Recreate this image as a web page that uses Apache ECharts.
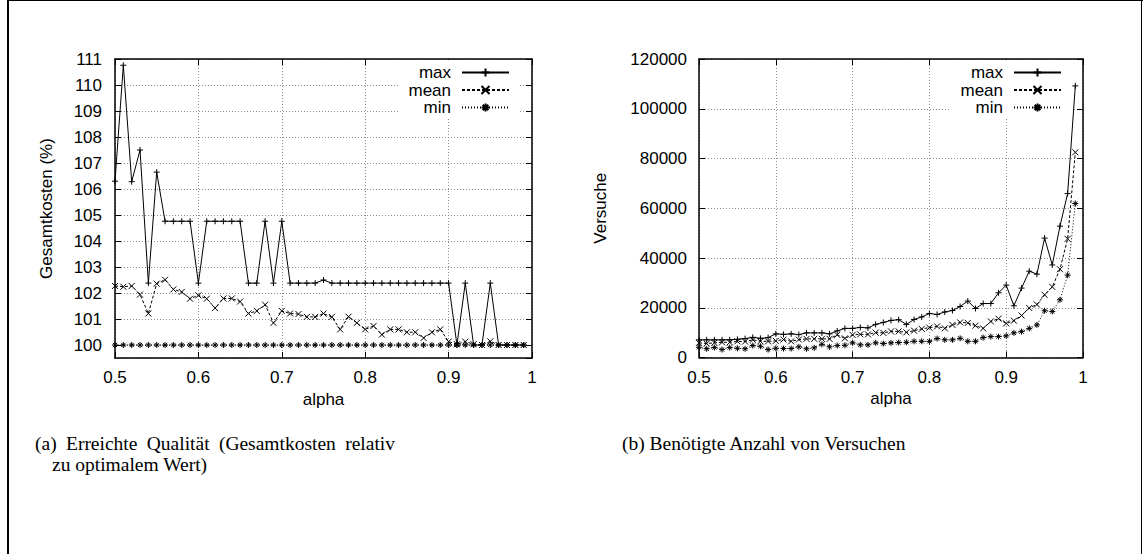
<!DOCTYPE html>
<html>
<head>
<meta charset="utf-8">
<script src="https://cdn.jsdelivr.net/npm/echarts@6/dist/echarts.min.js"></script>
<style>
  html, body { margin: 0; padding: 0; background: #fff; }
  #wrap { position: relative; width: 1143px; height: 554px; overflow: hidden; }
  #chart { position: absolute; left: 0; top: 0; width: 1143px; height: 554px; }
  .frame { position: absolute; background: #000; }
  .cap { position: absolute; font-family: 'Liberation Serif', 'Times New Roman', serif; font-size: 19.5px; line-height: 22px; color: #000; white-space: nowrap; }
  #capA1 { left: 35px; top: 433px; width: 360px; text-align: justify; text-align-last: justify; }
  #capA2 { left: 52px; top: 454px; }
  #capB { left: 622px; top: 433px; }
</style>
</head>
<body>
<div id="wrap">
  <div id="chart"></div>
  <div class="frame" style="left:7px; top:0px; width:2px; height:554px;"></div>
  <div class="frame" style="left:7px; top:0px; width:1136px; height:1px;"></div>
  <div class="frame" style="left:1141px; top:0px; width:1px; height:554px;"></div>
  <div class="cap" id="capA1">(a) Erreichte Qualität (Gesamtkosten relativ</div>
  <div class="cap" id="capA2">zu optimalem Wert)</div>
  <div class="cap" id="capB">(b) Benötigte Anzahl von Versuchen</div>
</div>
<script>
// ---------------- data ----------------
const alpha = [0.50,0.51,0.52,0.53,0.54,0.55,0.56,0.57,0.58,0.59,
               0.60,0.61,0.62,0.63,0.64,0.65,0.66,0.67,0.68,0.69,
               0.70,0.71,0.72,0.73,0.74,0.75,0.76,0.77,0.78,0.79,
               0.80,0.81,0.82,0.83,0.84,0.85,0.86,0.87,0.88,0.89,
               0.90,0.91,0.92,0.93,0.94,0.95,0.96,0.97,0.98,0.99];

const xTicks = [0.5, 0.6, 0.7, 0.8, 0.9, 1];
const qualTicks = [100,101,102,103,104,105,106,107,108,109,110,111];
const versTicks = [0,20000,40000,60000,80000,100000,120000];

const qualMax = [106.3,110.76,106.28,107.5,102.38,106.65,104.76,104.76,104.76,104.76,
                 102.38,104.76,104.76,104.76,104.76,104.76,102.38,102.38,104.76,102.38,
                 104.76,102.38,102.38,102.38,102.38,102.5,102.38,102.38,102.38,102.38,
                 102.38,102.38,102.38,102.38,102.38,102.38,102.38,102.38,102.38,102.38,
                 102.38,100,102.38,100,100,102.38,100,100,100,100];
const qualMean = [102.27,102.24,102.27,101.94,101.21,102.36,102.51,102.14,102.04,101.78,
                  101.91,101.78,101.42,101.79,101.79,101.67,101.21,101.31,101.55,100.85,
                  101.31,101.21,101.19,101.08,101.08,101.21,101.08,100.60,101.09,100.85,
                  100.60,100.73,100.40,100.60,100.60,100.49,100.49,100.27,100.49,100.60,
                  100.13,100.03,100.13,100.03,100.0,100.14,100.0,100.0,100.0,100.0];
const qualMin = [100,100,100,100,100,100,100,100,100,100,
                 100,100,100,100,100,100,100,100,100,100,
                 100,100,100,100,100,100,100,100,100,100,
                 100,100,100,100,100,100,100,100,100,100,
                 100,100,100,100,100,100,100,100,100,100];

const versMax = [7100,7100,7100,7100,7100,7300,7600,8100,7700,8000,
                 9500,9300,9500,9200,9900,9900,9900,9500,10700,11700,
                 11700,12100,11900,13300,14100,14900,15200,13300,15300,16300,
                 17700,17300,18300,18900,20500,22700,19700,21700,21700,26000,
                 29100,20800,27900,34700,33500,48000,37200,52800,65900,109200];
const versMean = [5900,5600,5900,6100,6100,6500,6400,7100,6500,6500,
                  6700,7200,6500,7200,7500,7500,7500,7500,9100,7700,
                  9100,9300,9300,10000,9900,10500,10500,10100,10800,11500,
                  12000,12500,11700,13100,14100,13900,12800,11700,14500,15600,
                  13700,14800,16900,19900,21300,25200,28400,35500,47700,82500];
const versMin = [4100,3500,4000,3200,4000,3700,3500,4800,4500,3200,
                 3700,3600,3600,4300,3500,3900,5300,4300,4800,4900,
                 5900,5100,5100,5900,5600,5900,6000,6100,6500,6500,
                 6500,7600,7100,7100,7700,6500,6500,8000,8400,8400,
                 8700,9900,10400,11700,13100,18800,18500,23200,33100,61900];

const seriesNames = ['max', 'mean', 'min'];

// ---------------- styles ----------------
const FONT = "'Liberation Sans', Arial, Helvetica, sans-serif";
const SYM_PLUS = 'path://M0,4L8,4M4,0L4,8';
const SYM_CROSS = 'path://M0,0L8,8M8,0L0,8';
const SYM_STAR = 'path://M0,4L8,4M4,0L4,8M1.2,1.2L6.8,6.8M6.8,1.2L1.2,6.8';

const gridLine = { show: true, lineStyle: { color: '#8c8c8c', type: [1, 2], width: 1 } };
const axisLineS = { show: true, onZero: false, lineStyle: { color: '#000', width: 1.5 } };
const tickS = { show: true, inside: true, length: 6, lineStyle: { color: '#000', width: 1 } };
const labelS = { color: '#000', fontSize: 17, fontFamily: FONT, formatter: v => String(v) };

function xAxes(grid, name) {
  return [
    { gridIndex: grid, type: 'value', min: xTicks[0], max: xTicks[xTicks.length - 1], interval: 0.1, position: 'bottom',
      axisLine: axisLineS, axisTick: tickS, splitLine: gridLine,
      axisLabel: Object.assign({ margin: 11 }, labelS),
      name: name, nameLocation: 'middle', nameGap: 26,
      nameTextStyle: { color: '#000', fontSize: 17, fontFamily: FONT } },
    { gridIndex: grid, type: 'value', min: xTicks[0], max: xTicks[xTicks.length - 1], interval: 0.1, position: 'top',
      axisLine: axisLineS, axisTick: tickS, splitLine: { show: false },
      axisLabel: { show: false } }
  ];
}

function mkSeries(xi, yi, vals, name) {
  const st = {
    max: { sym: SYM_PLUS, type: 'solid' },
    mean: { sym: SYM_CROSS, type: [3, 2] },
    min: { sym: SYM_STAR, type: [1, 2] }
  }[name];
  return {
    type: 'line', name: name, xAxisIndex: xi, yAxisIndex: yi,
    data: alpha.map((a, i) => [a, vals[i]]),
    symbol: st.sym, symbolSize: 6, symbolKeepAspect: true, showAllSymbol: true,
    itemStyle: { color: 'rgba(0,0,0,0)', borderColor: '#000', borderWidth: 1 },
    lineStyle: { color: '#000', width: 1, type: st.type },
    emphasis: { disabled: true }, animation: false, z: 3
  };
}

function mkLegend(right) {
  return {
    data: seriesNames, orient: 'vertical', align: 'right',
    right: right, top: 60,
    itemWidth: 47, itemHeight: 10, itemGap: 0.5,
    backgroundColor: '#fff', padding: [4, 10, 2, 10],
    textStyle: { color: '#000', fontSize: 17, fontFamily: FONT, padding: [0, 6, 0, 0] },
    selectedMode: false
  };
}

const option = {
  animation: false,
  grid: [
    { left: 115, top: 59, width: 417, height: 299 },
    { left: 699, top: 59, width: 384, height: 298.5 }
  ],
  legend: [ mkLegend(1143 - 510 - 10), mkLegend(1143 - 1062 - 10) ],
  xAxis: xAxes(0, 'alpha').concat(xAxes(1, 'alpha')),
  yAxis: [
    { gridIndex: 0, type: 'value', min: 99.5, max: qualTicks[qualTicks.length - 1],
      minInterval: 1, maxInterval: 1, position: 'left',
      axisLine: axisLineS, axisTick: tickS, splitLine: gridLine,
      axisLabel: Object.assign({ margin: 13, showMinLabel: false }, labelS),
      name: 'Gesamtkosten (%)', nameLocation: 'middle', nameGap: 60,
      nameTextStyle: { color: '#000', fontSize: 17, fontFamily: FONT } },
    { gridIndex: 0, type: 'value', min: 99.5, max: qualTicks[qualTicks.length - 1],
      minInterval: 1, maxInterval: 1, position: 'right',
      axisLine: axisLineS, axisTick: tickS, splitLine: { show: false },
      axisLabel: { show: false } },
    { gridIndex: 1, type: 'value', min: versTicks[0], max: versTicks[versTicks.length - 1],
      interval: 20000, position: 'left',
      axisLine: axisLineS, axisTick: tickS, splitLine: gridLine,
      axisLabel: Object.assign({ margin: 12 }, labelS),
      name: 'Versuche', nameLocation: 'middle', nameGap: 90,
      nameTextStyle: { color: '#000', fontSize: 17, fontFamily: FONT } },
    { gridIndex: 1, type: 'value', min: versTicks[0], max: versTicks[versTicks.length - 1],
      interval: 20000, position: 'right',
      axisLine: axisLineS, axisTick: tickS, splitLine: { show: false },
      axisLabel: { show: false } }
  ],
  series: [
    mkSeries(0, 0, qualMax, 'max'),
    mkSeries(0, 0, qualMean, 'mean'),
    mkSeries(0, 0, qualMin, 'min'),
    mkSeries(2, 2, versMax, 'max'),
    mkSeries(2, 2, versMean, 'mean'),
    mkSeries(2, 2, versMin, 'min')
  ]
};

const chart = echarts.init(document.getElementById('chart'), null, { renderer: 'svg' });
chart.setOption(option);
</script>
</body>
</html>
